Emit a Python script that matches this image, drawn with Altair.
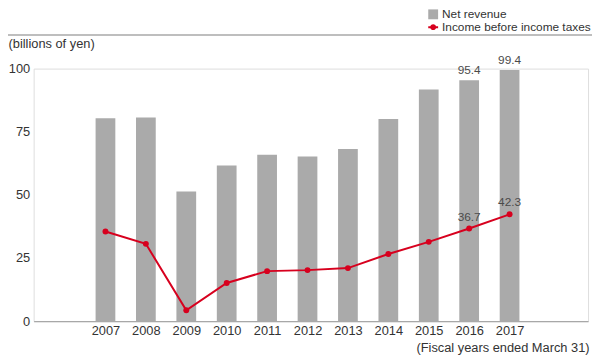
import altair as alt
import pandas as pd

years = [2007, 2008, 2009, 2010, 2011, 2012, 2013, 2014, 2015, 2016, 2017]
net_revenue = [80.3, 80.6, 51.3, 61.6, 65.9, 65.2, 68.2, 80.0, 91.7, 95.4, 99.4]
income_before_tax = [35.5, 30.6, 4.3, 15.1, 19.8, 20.2, 21.0, 26.6, 31.4, 36.7, 42.3]
labelled_years = [2016, 2017]

y_ticks = [0, 25, 50, 75, 100]

GRAY = "#aaaaaa"
RED = "#d7001e"
TEXT = "#333333"
FONT = "Liberation Sans"

df = pd.DataFrame({
    "year": years,
    "revenue": net_revenue,
    "income": income_before_tax,
})
df["labelled"] = df["year"].isin(labelled_years)

W, H = 562, 256

x_scale = alt.Scale(domain=[2005.345, 2018.82], zero=False, nice=False)
y_scale = alt.Scale(domain=[0, 100], nice=False, zero=True)

x_axis = alt.Axis(
    values=years, format="d", grid=False, ticks=False,
    domainColor="#a8a8a8", domainWidth=1.5,
    labelFontSize=13, labelColor=TEXT, labelFont=FONT, labelPadding=4,
    title="(Fiscal years ended March 31)", titleFont=FONT, titleFontSize=13,
    titleFontWeight="normal", titleColor=TEXT, titleAlign="right",
    titleBaseline="middle", titleX=563, titleY=27, titleAnchor="end",
)
y_axis = alt.Axis(
    values=y_ticks, grid=False, ticks=False, domain=False,
    labelFontSize=13, labelColor=TEXT, labelFont=FONT, labelPadding=4,
    title="(billions of yen)", titleFont=FONT, titleFontSize=13,
    titleFontWeight="normal", titleColor=TEXT, titleAngle=0,
    titleAlign="left", titleBaseline="middle", titleX=-26, titleY=-25,
)

base = alt.Chart(df)

bars = base.transform_calculate(series="'Net revenue'").mark_bar(size=20).encode(
    x=alt.X("year:Q", scale=x_scale, axis=x_axis),
    y=alt.Y("revenue:Q", scale=y_scale, axis=y_axis),
    color=alt.Color(
        "series:N",
        scale=alt.Scale(domain=["Net revenue"], range=[GRAY]),
        legend=alt.Legend(
            orient="none", legendX=399, legendY=-61, title=None, padding=0,
            symbolType="square", symbolSize=100, symbolStrokeWidth=0,
            labelFont=FONT, labelFontSize=12, labelColor=TEXT, labelOffset=3,
        ),
    ),
)

bar_labels = base.transform_filter("datum.labelled").mark_text(
    font=FONT, fontSize=12, color="#4a4a4a", baseline="bottom", dy=-3
).encode(
    x=alt.X("year:Q", scale=x_scale),
    y=alt.Y("revenue:Q", scale=y_scale),
    text=alt.Text("revenue:Q", format=".1f"),
)

line = base.mark_line(color=RED, strokeWidth=2).encode(
    x=alt.X("year:Q", scale=x_scale),
    y=alt.Y("income:Q", scale=y_scale),
)

points = base.transform_calculate(series2="'Income before income taxes'").mark_point(
    filled=True, size=36, opacity=1, shape="circle"
).encode(
    x=alt.X("year:Q", scale=x_scale),
    y=alt.Y("income:Q", scale=y_scale),
    color=alt.Color(
        "series2:N",
        scale=alt.Scale(domain=["Income before income taxes"], range=[RED]),
        legend=alt.Legend(
            orient="none", legendX=399, legendY=-48, title=None, padding=0,
            symbolType="M-1,-0.2H1V0.2H-1Z M0.6,0A0.6,0.6,0,1,1,-0.6,0A0.6,0.6,0,1,1,0.6,0Z",
            symbolSize=100, symbolStrokeWidth=0, symbolFillColor=RED,
            labelFont=FONT, labelFontSize=12, labelColor=TEXT, labelOffset=3,
        ),
    ),
)

line_labels = base.transform_filter("datum.labelled").mark_text(
    font=FONT, fontSize=12, color="#4a4a4a", baseline="bottom", dy=-5
).encode(
    x=alt.X("year:Q", scale=x_scale),
    y=alt.Y("income:Q", scale=y_scale),
    text=alt.Text("income:Q", format=".1f"),
)

separator = alt.Chart(df).mark_rule(color="#a8a8a8", strokeWidth=1.5).encode(
    x=alt.value(-26), x2=alt.value(566), y=alt.value(-34)
).transform_filter("datum.year == 2007")

chart = alt.layer(
    bars, bar_labels, line, points, line_labels, separator
).resolve_scale(color="independent").properties(
    width=W, height=H,
    autosize=alt.AutoSizeParams(type="none"),
    padding={"left": 26, "top": 59, "right": 4, "bottom": 39},
).configure_view(strokeWidth=0).configure(background="white")

chart.save("out.html", embed_options={"renderer": "svg", "actions": False})
